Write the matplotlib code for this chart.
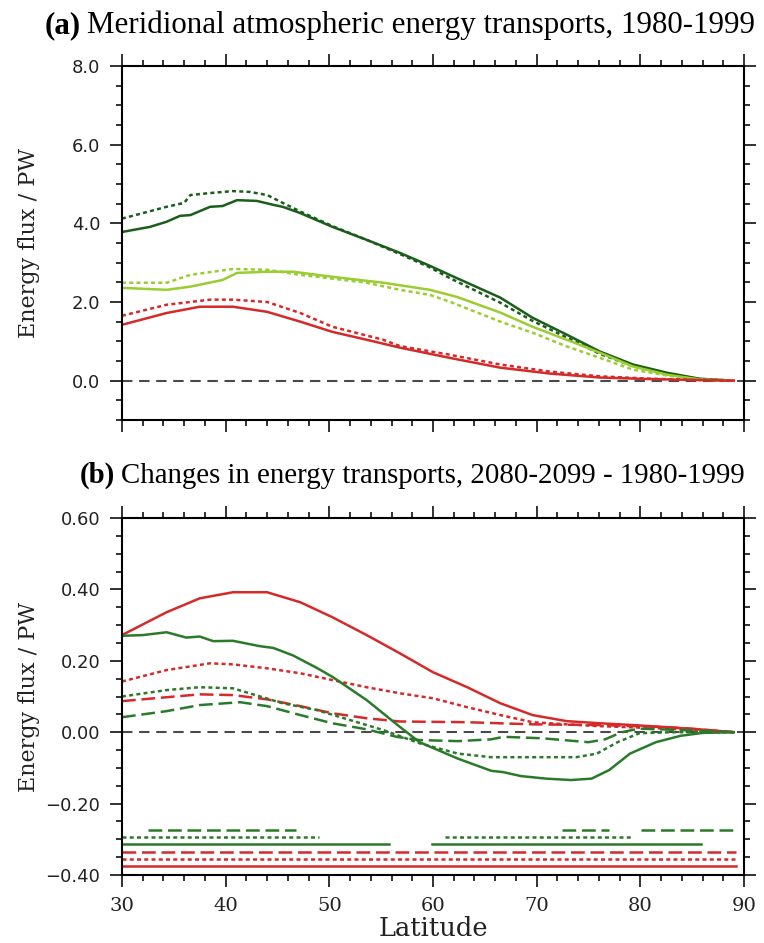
# plot.py

from __future__ import annotations

import matplotlib
matplotlib.use("Agg")
import matplotlib.pyplot as plt
from matplotlib.ticker import MultipleLocator, FuncFormatter


# ---- panel (a): 1980-1999 transports (PW) ----
A_DKGREEN_SOLID_LAT = [30, 32.7, 34.3, 35.6, 36.6, 38.5, 39.7, 41.1, 43.0, 44.6, 45.5, 47.2,
                       50.3, 53.6, 56.8, 59.7, 61.6, 66.5, 69.6, 72.9, 76.1, 79.3, 82.6, 85.7, 89]
A_DKGREEN_SOLID = [3.78, 3.91, 4.04, 4.19, 4.21, 4.42, 4.44, 4.59, 4.57, 4.47, 4.42, 4.26,
                   3.91, 3.58, 3.25, 2.92, 2.69, 2.11, 1.60, 1.17, 0.74, 0.41, 0.20, 0.05, 0.0]

A_DKGREEN_DOT_LAT = [30, 34.3, 36.0, 36.6, 38.5, 40.7, 42.3, 44.0, 45.5, 47.2, 50.3, 53.6,
                     56.8, 59.7, 61.6, 66.5, 69.6, 72.9, 76.1, 79.3, 82.6, 85.7, 89]
A_DKGREEN_DOT = [4.12, 4.42, 4.52, 4.72, 4.77, 4.82, 4.80, 4.72, 4.52, 4.30, 3.93, 3.58,
                 3.22, 2.88, 2.61, 1.98, 1.52, 1.10, 0.68, 0.37, 0.17, 0.04, 0.0]

A_LTGREEN_SOLID_LAT = [30, 34.3, 36.6, 39.7, 41.1, 44.0, 46.5, 50.3, 55.2, 59.7, 62.3, 66.5,
                       69.6, 72.9, 76.1, 79.3, 82.6, 85.7, 89]
A_LTGREEN_SOLID = [2.36, 2.31, 2.39, 2.56, 2.74, 2.77, 2.77, 2.64, 2.49, 2.31, 2.13, 1.73,
                   1.37, 1.04, 0.71, 0.36, 0.15, 0.03, 0.0]

A_LTGREEN_DOT_LAT = [30, 34.3, 36.6, 40.7, 44.0, 47.2, 53.6, 56.8, 59.7, 61.6, 66.5, 69.6,
                     72.9, 76.1, 79.3, 82.6, 85.7, 89]
A_LTGREEN_DOT = [2.49, 2.49, 2.69, 2.84, 2.82, 2.69, 2.49, 2.31, 2.18, 2.01, 1.50, 1.22,
                 0.87, 0.58, 0.28, 0.13, 0.03, 0.0]

A_RED_SOLID_LAT = [30, 34.3, 37.5, 40.7, 44.0, 47.2, 50.3, 53.6, 56.8, 61.6, 66.5, 71.3,
                   76.1, 81, 85, 89]
A_RED_SOLID = [1.42, 1.72, 1.88, 1.88, 1.75, 1.50, 1.24, 1.04, 0.84, 0.58, 0.33, 0.18,
               0.08, 0.04, 0.02, 0.0]

A_RED_DOT_LAT = [30, 34.3, 38.5, 40.7, 44.0, 47.2, 50.3, 55.2, 56.8, 61.6, 66.5, 71.3,
                 76.1, 81, 85, 89]
A_RED_DOT = [1.65, 1.93, 2.06, 2.06, 2.00, 1.72, 1.37, 1.04, 0.88, 0.66, 0.41, 0.23,
             0.11, 0.05, 0.02, 0.0]

# ---- panel (b): changes 2080-2099 minus 1980-1999 (PW) ----
B_RED_SOLID_LAT = [30, 34.3, 37.5, 40.7, 44.0, 47.2, 50.3, 53.6, 56.8, 60, 63.3, 66.5,
                   69.6, 72.9, 76.1, 79.3, 82.6, 85.7, 89]
B_RED_SOLID = [0.272, 0.336, 0.375, 0.392, 0.392, 0.364, 0.322, 0.272, 0.221, 0.168, 0.126,
               0.081, 0.048, 0.031, 0.025, 0.020, 0.014, 0.008, 0.0]

B_RED_DOT_LAT = [30, 34.3, 38.5, 40.7, 44.0, 47.2, 50.3, 53.6, 56.8, 60, 63.3, 66.5, 69.6,
                 72.9, 76.1, 82.6, 89]
B_RED_DOT = [0.142, 0.174, 0.193, 0.190, 0.179, 0.165, 0.146, 0.126, 0.109, 0.095, 0.070,
             0.048, 0.028, 0.022, 0.017, 0.010, 0.0]

B_RED_DASH_LAT = [30, 34.3, 37.5, 40.7, 44.0, 47.2, 50.3, 53.6, 56.8, 63.3, 69.6, 76.1,
                  82.6, 85.7, 89]
B_RED_DASH = [0.087, 0.098, 0.106, 0.104, 0.092, 0.073, 0.053, 0.039, 0.030, 0.028, 0.022,
              0.020, 0.014, 0.008, 0.0]

B_GREEN_SOLID_LAT = [30, 32, 34.3, 36.2, 37.5, 38.8, 40.7, 43.3, 44.6, 46.5, 48.8, 50.3,
                     53.6, 56.8, 58.7, 62.4, 65.6, 66.8, 68.5, 70.9, 73.3, 75.3, 77, 79,
                     81.5, 83.9, 86, 89]
B_GREEN_SOLID = [0.270, 0.272, 0.280, 0.265, 0.268, 0.255, 0.256, 0.241, 0.236, 0.215, 0.180,
                 0.155, 0.090, 0.015, -0.028, -0.074, -0.108, -0.112, -0.123, -0.130, -0.134,
                 -0.130, -0.106, -0.060, -0.028, -0.010, -0.002, 0.0]

B_GREEN_DOT_LAT = [30, 34.3, 37.5, 40.7, 42.3, 45.5, 48.8, 52, 55.2, 58.7, 62.4, 65.6,
                   70.5, 73.8, 75.8, 77.8, 79.9, 83, 89]
B_GREEN_DOT = [0.100, 0.118, 0.126, 0.123, 0.109, 0.081, 0.062, 0.034, 0.006, -0.031, -0.060,
               -0.070, -0.070, -0.070, -0.060, -0.028, -0.003, 0.0, 0.0]

B_GREEN_DASH_LAT = [30, 34.3, 37.5, 41.4, 44.0, 47.2, 50.3, 53.6, 56.5, 58.7, 62.4, 65.6,
                    66.8, 70.5, 75, 76.6, 78.2, 79.9, 85, 89]
B_GREEN_DASH = [0.042, 0.059, 0.076, 0.084, 0.073, 0.048, 0.025, 0.008, -0.013, -0.022,
                -0.025, -0.020, -0.013, -0.017, -0.028, -0.020, 0.0, 0.010, 0.005, 0.0]

# significance bars at the bottom of panel (b): latitude ranges per series
SIG_GREEN_DASH = [(32.5, 46.8), (72.4, 77.0), (80.1, 89.2)]
SIG_GREEN_DOT = [(30, 49.0), (61.2, 79.1)]
SIG_GREEN_SOLID = [(30, 55.8), (59.9, 85.9)]
SIG_RED_DASH = [(30, 89.2)]
SIG_RED_DOT = [(30, 89.2)]
SIG_RED_SOLID = [(30, 89.2)]

DKGREEN = "#1b5e1b"
GREEN = "#2b7a2b"
LTGREEN = "#9acd32"
RED = "#d42a2a"
ZERO_GRAY = "#4a4a4a"

SOLID = "-"
DOTTED = (0, (1.6, 1.3))
DASHED = (0, (5.5, 2.3))

SERIF = "Liberation Serif"
SERIF2 = "DejaVu Serif"
SANS = "DejaVu Sans"

W_PX, H_PX = 764, 943
LW = 1.8


def frac_box(left, top, right, bottom):
    return [left / W_PX, 1 - bottom / H_PX, (right - left) / W_PX, (bottom - top) / H_PX]


def style_axes(ax, ymajor, yminor, ndec, show_xlabels):
    ax.set_xlim(30, 90)
    ax.xaxis.set_major_locator(MultipleLocator(10))
    ax.xaxis.set_minor_locator(MultipleLocator(2))
    ax.yaxis.set_major_locator(MultipleLocator(ymajor))
    ax.yaxis.set_minor_locator(MultipleLocator(yminor))
    ax.yaxis.set_major_formatter(
        FuncFormatter(lambda v, _: f"{v:.{ndec}f}".replace("-", "\u2212"))
    )
    for sp in ax.spines.values():
        sp.set_linewidth(1.5)
    ax.tick_params(which="both", direction="out", top=True, right=True, width=1.3, color="#222222")
    ax.tick_params(which="major", length=8.5, pad=7)
    ax.tick_params(which="minor", length=4.3)
    ax.tick_params(axis="y", labelsize=13, labelcolor="#222222")
    ax.tick_params(axis="x", labelbottom=show_xlabels, labelsize=14, labelcolor="#222222")
    for lab in ax.get_yticklabels():
        lab.set_family(SANS)
    for lab in ax.get_xticklabels():
        lab.set_family(SERIF2)
    ax.set_ylabel("Energy flux / PW", family=SERIF2, fontsize=16, color="#222222")
    ax.yaxis.set_label_coords(-0.132, 0.5)
    ax.axhline(0.0, color=ZERO_GRAY, lw=1.5, linestyle=(0, (5, 3.2)), zorder=1)


def add_title(fig, x_px, base_px, tag, text, size):
    y = 1 - base_px / H_PX
    t = fig.text(x_px / W_PX, y, tag, family=SERIF, fontsize=size,
                 fontweight="bold", va="baseline", ha="left")
    rest = fig.text(0, y, text, family=SERIF, fontsize=size, va="baseline", ha="left")
    # place second piece right after the bold tag
    fig.canvas.draw()
    bb = t.get_window_extent()
    x1 = fig.transFigure.inverted().transform((bb.x1, 0))[0]
    rest.set_position((x1 + 6 / W_PX, y))


def main() -> None:
    fig = plt.figure(figsize=(W_PX / 100, H_PX / 100), dpi=100)

    # (a)
    ax_a = fig.add_axes(frac_box(122, 66, 744, 420))
    ax_a.set_ylim(-1.0, 8.0)
    ax_a.plot(A_DKGREEN_DOT_LAT, A_DKGREEN_DOT, color=DKGREEN, lw=LW, linestyle=DOTTED)
    ax_a.plot(A_DKGREEN_SOLID_LAT, A_DKGREEN_SOLID, color=DKGREEN, lw=LW, linestyle=SOLID)
    ax_a.plot(A_LTGREEN_DOT_LAT, A_LTGREEN_DOT, color=LTGREEN, lw=LW, linestyle=DOTTED)
    ax_a.plot(A_LTGREEN_SOLID_LAT, A_LTGREEN_SOLID, color=LTGREEN, lw=LW, linestyle=SOLID)
    ax_a.plot(A_RED_DOT_LAT, A_RED_DOT, color=RED, lw=LW, linestyle=DOTTED)
    ax_a.plot(A_RED_SOLID_LAT, A_RED_SOLID, color=RED, lw=LW, linestyle=SOLID)
    style_axes(ax_a, 2.0, 0.5, 1, show_xlabels=False)

    # (b)
    ax_b = fig.add_axes(frac_box(122, 518, 744, 875))
    ax_b.set_ylim(-0.4, 0.6)
    ax_b.plot(B_RED_SOLID_LAT, B_RED_SOLID, color=RED, lw=LW, linestyle=SOLID)
    ax_b.plot(B_RED_DOT_LAT, B_RED_DOT, color=RED, lw=LW, linestyle=DOTTED)
    ax_b.plot(B_RED_DASH_LAT, B_RED_DASH, color=RED, lw=LW, linestyle=DASHED)
    ax_b.plot(B_GREEN_SOLID_LAT, B_GREEN_SOLID, color=GREEN, lw=LW, linestyle=SOLID)
    ax_b.plot(B_GREEN_DOT_LAT, B_GREEN_DOT, color=GREEN, lw=LW, linestyle=DOTTED)
    ax_b.plot(B_GREEN_DASH_LAT, B_GREEN_DASH, color=GREEN, lw=LW, linestyle=DASHED)

    sig_rows = [
        (SIG_GREEN_DASH, -0.275, GREEN, DASHED),
        (SIG_GREEN_DOT, -0.294, GREEN, DOTTED),
        (SIG_GREEN_SOLID, -0.314, GREEN, SOLID),
        (SIG_RED_DASH, -0.335, RED, DASHED),
        (SIG_RED_DOT, -0.354, RED, DOTTED),
        (SIG_RED_SOLID, -0.375, RED, SOLID),
    ]
    for segs, level, color, ls in sig_rows:
        for lo, hi in segs:
            ax_b.plot([lo, hi], [level, level], color=color, lw=LW, linestyle=ls)

    style_axes(ax_b, 0.2, 0.05, 2, show_xlabels=True)
    ax_b.set_xlabel("Latitude", family=SERIF2, fontsize=18.5, color="#222222", labelpad=1)

    add_title(fig, 45, 33, "(a)", "Meridional atmospheric energy transports, 1980-1999", 22.3)
    add_title(fig, 80, 483, "(b)", "Changes in energy transports, 2080-2099 - 1980-1999", 20.8)

    fig.savefig("out.png", dpi=100)
    plt.close(fig)


if __name__ == "__main__":
    main()
